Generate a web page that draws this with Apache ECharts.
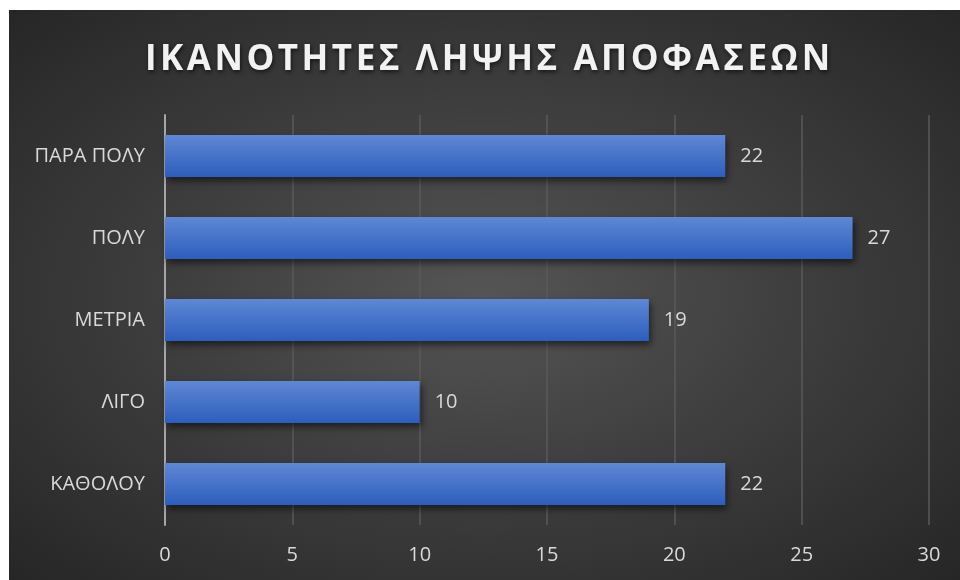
<!DOCTYPE html>
<html>
<head>
<meta charset="utf-8">
<script src="https://cdn.jsdelivr.net/npm/echarts@6/dist/echarts.min.js"></script>
<style>
  html, body { margin: 0; padding: 0; background: #ffffff; }
  #chart {
    position: absolute; left: 9px; top: 10px; width: 951px; height: 570px;
    background: radial-gradient(ellipse at 50% 50%, #555555 0%, #3f3f3f 45%, #262626 100%);
  }
</style>
</head>
<body>
<div id="chart"></div>
<script>
// Decision-making ability survey responses
const categories = ['ΚΑΘΟΛΟΥ', 'ΛΙΓΟ', 'ΜΕΤΡΙΑ', 'ΠΟΛΥ', 'ΠΑΡΑ ΠΟΛΥ'];
const counts = [22, 10, 19, 27, 22];
const titleText = 'ΙΚΑΝΟΤΗΤΕΣ ΛΗΨΗΣ ΑΠΟΦΑΣΕΩΝ';
const axisMax = 30;
const axisStep = 5;

// spaced-out title letters (ECharts has no letter-spacing option)
const spacedTitle = titleText.split('').join('\u200A');

const chart = echarts.init(document.getElementById('chart'), null, { renderer: 'canvas' });
chart.setOption({
  backgroundColor: 'transparent',
  title: {
    text: spacedTitle,
    left: 131,
    top: 28,
    textStyle: {
      fontFamily: 'Open Sans',
      fontWeight: 'bold',
      fontSize: 35,
      color: '#f2f2f2',
      textShadowColor: 'rgba(0,0,0,0.6)',
      textShadowBlur: 4,
      textShadowOffsetX: 1,
      textShadowOffsetY: 2
    }
  },
  grid: { left: 156, right: 31, top: 105, bottom: 55 },
  xAxis: {
    type: 'value',
    min: 0,
    max: axisMax,
    interval: axisStep,
    axisLine: { show: false },
    axisTick: { show: false },
    splitLine: { lineStyle: { color: '#5a5a5a', width: 1.5 } },
    axisLabel: { color: '#d9d9d9', fontSize: 20, fontFamily: 'Open Sans', margin: 20 }
  },
  yAxis: {
    type: 'category',
    data: categories,
    axisLine: { show: true, lineStyle: { color: '#a6a6a6', width: 2 } },
    axisTick: { show: false },
    axisLabel: { color: '#d9d9d9', fontSize: 20, fontFamily: 'Open Sans', margin: 20 }
  },
  series: [{
    type: 'bar',
    data: counts,
    barCategoryGap: '49%',
    itemStyle: {
      color: new echarts.graphic.LinearGradient(0, 0, 0, 1, [
        { offset: 0, color: '#5f87d4' },
        { offset: 1, color: '#2d5ebd' }
      ]),
      shadowColor: 'rgba(0,0,0,0.55)',
      shadowBlur: 7,
      shadowOffsetX: 2,
      shadowOffsetY: 4
    },
    label: {
      show: true,
      position: 'right',
      distance: 15,
      color: '#d9d9d9',
      fontSize: 20,
      fontFamily: 'Open Sans'
    }
  }]
});
</script>
</body>
</html>
